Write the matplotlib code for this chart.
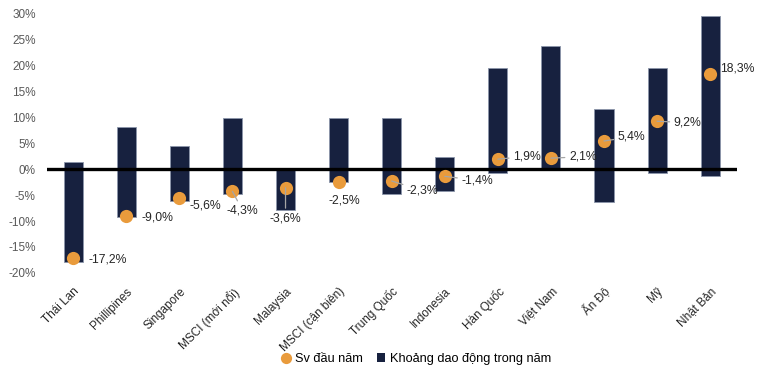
import matplotlib.pyplot as plt
import numpy as np

plt.rcParams['font.family'] = ['Liberation Sans', 'DejaVu Sans']

# data
# ----
markets = ["Thái Lan", "Phillipines", "Singapore", "MSCI (mới nổi)", "Malaysia",
           "MSCI (cận biên)", "Trung Quốc", "Indonesia", "Hàn Quốc", "Việt Nam",
           "Ấn Độ", "Mỹ", "Nhật Bản"]
range_low = [-17.8, -9.3, -6.1, -4.8, -7.9, -2.5, -4.8, -4.2, -0.7, 0.1, -6.4, -0.7, -1.3]
range_high = [1.4, 8.1, 4.4, 9.9, 0.0, 9.9, 9.9, 2.4, 19.4, 23.7, 11.5, 19.4, 29.4]
ytd = [-17.2, -9.0, -5.6, -4.3, -3.6, -2.5, -2.3, -1.4, 1.9, 2.1, 5.4, 9.2, 18.3]
ytd_labels = ["-17,2%", "-9,0%", "-5,6%", "-4,3%", "-3,6%", "-2,5%", "-2,3%",
              "-1,4%", "1,9%", "2,1%", "5,4%", "9,2%", "18,3%"]

# label offsets (points) and whether a leader line is drawn
offsets = [(11, -1, 'left', False), (11, -1, 'left', False), (7, -5, 'left', False),
           (-4, -14, 'left', True), (0, -22, 'center', True), (4, -13, 'center', False),
           (11, -7, 'left', True), (12, -3, 'left', True), (11, 2, 'left', True),
           (13, 1, 'left', True), (10, 3, 'left', True), (12, -1, 'left', True),
           (7, 4, 'left', False)]

navy = '#17213F'
orange = '#E99B3C'

x = np.arange(len(markets))
low = np.array(range_low)
high = np.array(range_high)

fig = plt.figure(figsize=(7.65, 3.76), dpi=100)
ax = fig.add_axes([0.061, 0.274, 0.902, 0.691])

ax.plot(x, ytd, 'o', color=orange, markersize=9.5, zorder=4, label="Sv đầu năm",
        markeredgewidth=0)
ax.bar(x, high - low, bottom=low, width=0.36, color=navy, edgecolor='#8C96AA',
       linewidth=0.6, zorder=2, label="Khoảng dao động trong năm")
ax.axhline(0, color='black', lw=2.4, zorder=3)

for xi, yi, lab, (dx, dy, ha, lead) in zip(x, ytd, ytd_labels, offsets):
    props = dict(arrowstyle='-', color='#A6A6A6', lw=0.9, shrinkA=1, shrinkB=0) if lead else None
    ax.annotate(lab, (xi, yi), xytext=(dx, dy), textcoords='offset points',
                ha=ha, va='center', fontsize=8.8, color='#262626',
                arrowprops=props, zorder=5)

ax.set_xlim(-0.5, len(markets) - 0.5)
ax.set_ylim(-20, 30)
ax.set_yticks(np.arange(-20, 31, 5))
ax.set_yticklabels([f"{v}%" for v in range(-20, 31, 5)], fontsize=8.5, color='#595959')
ax.set_xticks(x)
ax.set_xticklabels(markets, rotation=45, ha='right', va='top', fontsize=8.5,
                   color='#262626', rotation_mode='anchor')
ax.tick_params(axis='both', length=0)
ax.tick_params(axis='x', pad=9)
ax.tick_params(axis='y', pad=8)
for s in ax.spines.values():
    s.set_visible(False)

h, l = ax.get_legend_handles_labels()
leg = fig.legend(h, l, loc='center', bbox_to_anchor=(0.544, 0.045), ncol=2,
                 frameon=False, fontsize=9.2, handlelength=0.7, handletextpad=0.35,
                 columnspacing=1.1, markerscale=0.85)
leg.legend_handles[1].set_edgecolor('none')

fig.savefig("out.png", dpi=100)
